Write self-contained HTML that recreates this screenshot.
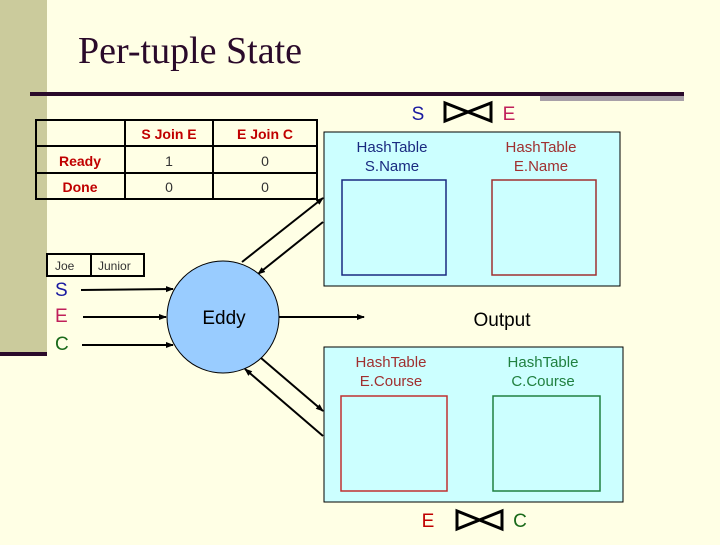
<!DOCTYPE html>
<html><head><meta charset="utf-8"><style>
body{margin:0;width:720px;height:540px;background:#FFFFE5;overflow:hidden;font-family:"Liberation Sans",sans-serif}
</style></head><body>
<svg width="720" height="540" xmlns="http://www.w3.org/2000/svg" font-family="Liberation Sans, sans-serif">
<defs><marker id="a" markerWidth="8" markerHeight="8" refX="7" refY="4" orient="auto" markerUnits="userSpaceOnUse"><path d="M0,1 L8,4 L0,7 z" fill="#000"/></marker></defs>
<rect x="0" y="0" width="47" height="353" fill="#CBCB9C"/>
<rect x="0" y="352" width="47" height="4" fill="#2a0a2a"/>
<text x="78" y="63" font-family="Liberation Serif, serif" font-size="38" fill="#2a0a2a">Per-tuple State</text>
<rect x="30" y="92" width="510" height="4" fill="#2a0a2a"/>
<rect x="540" y="92" width="144" height="4" fill="#2a0a2a"/>
<rect x="540" y="96" width="144" height="5" fill="#A8A0A8"/>
<!-- table -->
<g stroke="#000" fill="none">
<rect x="36" y="120" width="281" height="79" stroke-width="2"/>
<line x1="36" y1="146" x2="317" y2="146" stroke-width="2"/>
<line x1="36" y1="173" x2="317" y2="173" stroke-width="2"/>
<line x1="125" y1="120" x2="125" y2="199" stroke-width="2"/>
<line x1="213" y1="120" x2="213" y2="199" stroke-width="2"/>
</g>
<g font-size="14" text-anchor="middle">
<text x="169" y="139" fill="#C00000" font-weight="bold">S Join E</text>
<text x="265" y="139" fill="#C00000" font-weight="bold">E Join C</text>
<text x="80" y="166" fill="#C00000" font-weight="bold">Ready</text>
<text x="80" y="192" fill="#C00000" font-weight="bold">Done</text>
<text x="169" y="166" fill="#333">1</text><text x="265" y="166" fill="#333">0</text>
<text x="169" y="192" fill="#333">0</text><text x="265" y="192" fill="#333">0</text>
</g>
<!-- Joe Junior -->
<rect x="47" y="254" width="97" height="22" fill="none" stroke="#000" stroke-width="2"/>
<line x1="91" y1="254" x2="91" y2="276" stroke="#000" stroke-width="2"/>
<text x="55" y="270" font-size="12" fill="#333">Joe</text>
<text x="98" y="270" font-size="12" fill="#333">Junior</text>
<text x="55" y="296" font-size="19" fill="#1a1aa0">S</text>
<text x="55" y="322" font-size="19" fill="#C0205a">E</text>
<text x="55" y="350" font-size="19" fill="#1a6a1a">C</text>
<g stroke="#000" stroke-width="2" marker-end="url(#a)">
<line x1="81" y1="290" x2="173" y2="289"/>
<line x1="83" y1="317" x2="166" y2="317"/>
<line x1="82" y1="345" x2="173" y2="345"/>
<line x1="279" y1="317" x2="364" y2="317"/>
<line x1="242" y1="262" x2="323" y2="198"/>
<line x1="323" y1="222" x2="258" y2="274"/>
<line x1="261" y1="358" x2="323" y2="411"/>
<line x1="323" y1="436" x2="245" y2="369"/>
</g>
<circle cx="223" cy="317" r="56" fill="#99CCFF" stroke="#000" stroke-width="1"/>
<text x="224" y="324" font-size="19" text-anchor="middle" fill="#000">Eddy</text>
<text x="502" y="326" font-size="19" text-anchor="middle" fill="#000">Output</text>
<!-- top box -->
<rect x="324" y="132" width="296" height="154" fill="#CCFFFF" stroke="#000" stroke-width="1"/>
<rect x="342" y="180" width="104" height="95" fill="none" stroke="#1a2a80" stroke-width="1.5"/>
<rect x="492" y="180" width="104" height="95" fill="none" stroke="#A03030" stroke-width="1.5"/>
<g font-size="15" text-anchor="middle">
<text x="392" y="152" fill="#1a2a80">HashTable</text><text x="392" y="171" fill="#1a2a80">S.Name</text>
<text x="541" y="152" fill="#A03030">HashTable</text><text x="541" y="171" fill="#A03030">E.Name</text>
</g>
<text x="418" y="120" font-size="19" text-anchor="middle" fill="#1a1aa0">S</text>
<text x="509" y="120" font-size="19" text-anchor="middle" fill="#C0205a">E</text>
<path d="M445,103 L445,121 L491,103 L491,121 Z" fill="none" stroke="#000" stroke-width="3"/>
<!-- bottom box -->
<rect x="324" y="347" width="299" height="155" fill="#CCFFFF" stroke="#000" stroke-width="1"/>
<rect x="341" y="396" width="106" height="95" fill="none" stroke="#C03030" stroke-width="1.5"/>
<rect x="493" y="396" width="107" height="95" fill="none" stroke="#208040" stroke-width="1.5"/>
<g font-size="15" text-anchor="middle">
<text x="391" y="367" fill="#A03030">HashTable</text><text x="391" y="386" fill="#A03030">E.Course</text>
<text x="543" y="367" fill="#208040">HashTable</text><text x="543" y="386" fill="#208040">C.Course</text>
</g>
<text x="428" y="527" font-size="19" text-anchor="middle" fill="#C00000">E</text>
<text x="520" y="527" font-size="19" text-anchor="middle" fill="#1a6a1a">C</text>
<path d="M457,511 L457,529 L502,511 L502,529 Z" fill="none" stroke="#000" stroke-width="3"/>
</svg>
</body></html>
